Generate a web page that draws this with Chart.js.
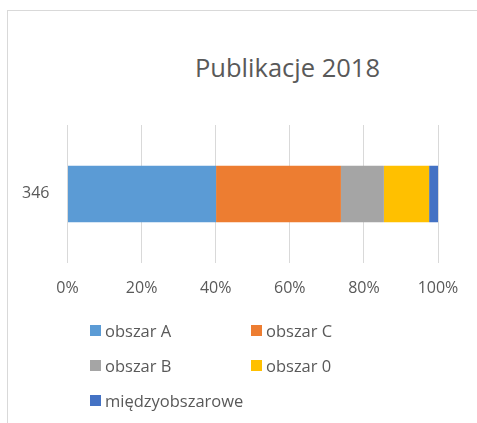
<!DOCTYPE html>
<html lang="pl">

<head>
    <meta charset="UTF-8">
    <title>Publikacje 2018</title>
    <script src="https://cdn.jsdelivr.net/npm/chart.js"></script>
    <style>
        html, body { margin: 0; padding: 0; background: #fff; }
        body { width: 477px; height: 423px; overflow: hidden; position: relative; font-family: "Open Sans", sans-serif; color: #595959; }
        #frame { position: absolute; left: 7px; top: 10px; width: 560px; height: 500px; border: 1px solid #d9d9d9; }
        #title { position: absolute; left: 0; top: 52px; width: 575px; text-align: center; font-size: 25.5px; line-height: 30px; }
        #wrap { position: absolute; left: 0; top: 0; width: 477px; height: 423px; }
        #legend { position: absolute; left: 90px; top: 313px; display: grid; grid-template-columns: 161px auto; grid-auto-rows: 35px; font-size: 16.5px; }
        .item { display: flex; align-items: center; white-space: nowrap; }
        .box { width: 11px; height: 11px; margin-right: 4px; flex: none; }
    </style>
</head>

<body>
    <div id="frame"></div>
    <div id="title">Publikacje 2018</div>
    <div id="wrap"><canvas id="chart" width="477" height="423"></canvas></div>
    <div id="legend"></div>

    <script>
        // one category (total count) and the share of each area, in percent
        const categories = ['346'];
        const seriesNames = ['obszar A', 'obszar C', 'obszar B', 'obszar 0', 'międzyobszarowe'];
        const seriesValues = [[40.1], [33.7], [11.6], [12.2], [2.4]];
        const seriesColors = ['#5b9bd5', '#ed7d31', '#a5a5a5', '#ffc000', '#4472c4'];
        const xTicks = [0, 20, 40, 60, 80, 100];

        const textColor = '#595959';
        const gridColor = '#d9d9d9';

        const datasets = seriesNames.map(function (name, i) {
            return {
                label: name,
                data: seriesValues[i],
                backgroundColor: seriesColors[i],
                borderWidth: 0,
                categoryPercentage: 1,
                barPercentage: 0.41
            };
        });

        const chart = new Chart(document.getElementById('chart'), {
            type: 'bar',
            data: { labels: categories, datasets: datasets },
            options: {
                indexAxis: 'y',
                responsive: false,
                animation: false,
                layout: { padding: { left: 0, right: 39, top: 125, bottom: 109 } },
                plugins: {
                    legend: { display: false },
                    tooltip: { enabled: false }
                },
                scales: {
                    x: {
                        stacked: true,
                        min: 0,
                        max: 100,
                        afterBuildTicks: function (scale) {
                            scale.ticks = xTicks.map(function (v) { return { value: v }; });
                        },
                        ticks: {
                            padding: 16,
                            color: textColor,
                            font: { family: 'Open Sans', size: 16 },
                            callback: function (v) { return v + '%'; }
                        },
                        grid: { color: gridColor, lineWidth: 1, drawTicks: false },
                        border: { display: false }
                    },
                    y: {
                        stacked: true,
                        afterFit: function (scale) { scale.width = 67.5; },
                        ticks: {
                            padding: 18,
                            color: textColor,
                            font: { family: 'Open Sans', size: 16 }
                        },
                        grid: { display: false, drawTicks: false },
                        border: { display: false }
                    }
                }
            }
        });

        // legend in two columns, built from the chart's own legend items
        const legendEl = document.getElementById('legend');
        chart.options.plugins.legend.labels.generateLabels(chart).forEach(function (item) {
            const div = document.createElement('div');
            div.className = 'item';
            const box = document.createElement('span');
            box.className = 'box';
            box.style.background = item.fillStyle;
            div.appendChild(box);
            div.appendChild(document.createTextNode(item.text));
            legendEl.appendChild(div);
        });
    </script>
</body>

</html>
